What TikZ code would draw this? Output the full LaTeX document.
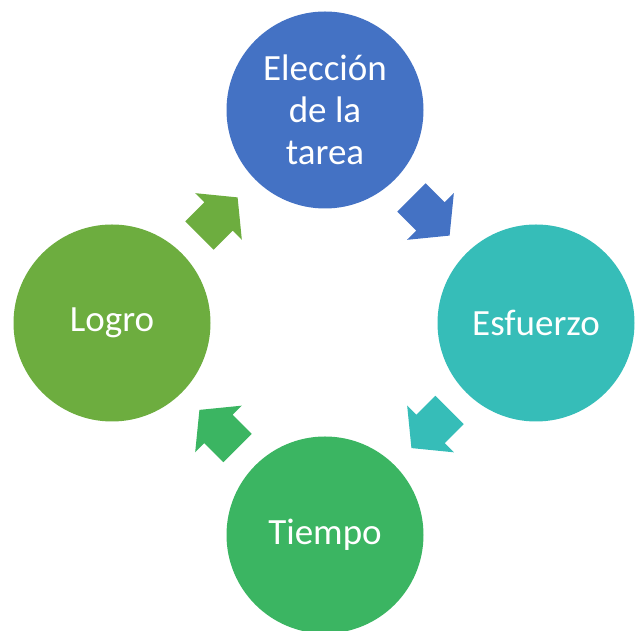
\documentclass[tikz,border=0pt]{standalone}
\usepackage{fontspec}
\setmainfont{Carlito}
\usetikzlibrary{calc}

\definecolor{azul}{HTML}{4472C4}
\definecolor{turquesa}{HTML}{36BDB8}
\definecolor{verde}{HTML}{3BB562}
\definecolor{oliva}{HTML}{6DAD3F}

\tikzset{etapa/.style={circle, minimum size=197pt, inner sep=0pt, text=white, align=center, font=\fontsize{37}{42}\selectfont}}

\begin{document}
\begin{tikzpicture}[x=1pt,y=1pt]
		    \useasboundingbox (0,0) rectangle (635,631);
		    \node[etapa, fill=azul] (eleccion) at (325,521) {Elección\\de la\\tarea};
		    \node[etapa, fill=turquesa] (esfuerzo) at (536,308) {Esfuerzo};
		    \node[etapa, fill=verde] (tiempo) at (325,96) {Tiempo};
		    \node[etapa, fill=oliva] (logro) at (112,308) {Logro};
		    \foreach \de/\a/\ang/\c in {eleccion/esfuerzo/-45/azul, esfuerzo/tiempo/-135/turquesa, tiempo/logro/135/verde, logro/eleccion/45/oliva}
		    \fill[\c, shift={($(\de)!0.5!(\a)$)}, rotate=\ang] (-27,-20) -- (0,-20) -- (0,-33) -- (27,0) -- (0,33) -- (0,20) -- (-27,20) -- cycle;
        \end{tikzpicture}
\end{document}
